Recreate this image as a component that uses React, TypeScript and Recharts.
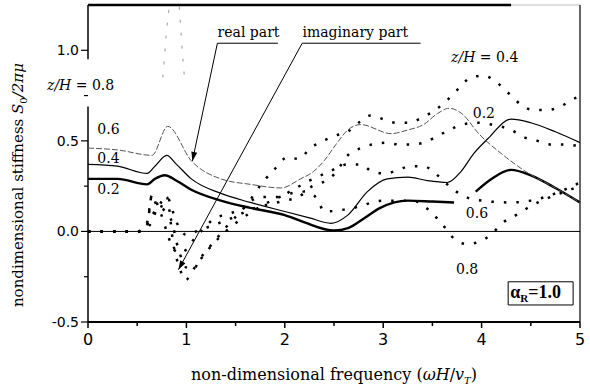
import React from 'react';
import { LineChart, Line, XAxis, YAxis, ReferenceLine, ReferenceDot, ReferenceArea } from 'recharts';

// axis ticks
const xTicks = [0, 0.5, 1, 1.5, 2, 2.5, 3, 3.5, 4, 4.5, 5];
const xTickText = ['0', '1', '2', '3', '4', '5'];
const yTicks = [-0.5, -0.25, 0, 0.25, 0.5, 0.75, 1.0];
const yMajor = [-0.5, 0, 0.5, 1.0];
const yMajorText = ['-0.5', '0.0', '0.5', '1.0'];

// real parts (z/H = 0.2, 0.4, 0.6, 0.8)
const re02X = [0, 0.3, 0.6, 0.68, 0.78, 0.9, 1.05, 1.35, 1.65, 2.0, 2.2, 2.5, 2.65, 2.8, 2.97, 3.25, 3.5, 3.72, 3.83, 3.94, 4.1, 4.3, 4.5, 4.75, 5.0];
const re02Y = [0.29, 0.29, 0.26, 0.29, 0.31, 0.28, 0.23, 0.17, 0.13, 0.09, 0.05, 0.005, 0.02, 0.07, 0.13, 0.17, 0.165, 0.16, null, 0.22, 0.29, 0.34, 0.31, 0.24, 0.16];
const re04X = [0, 0.3, 0.6, 0.68, 0.8, 0.9, 1.05, 1.35, 1.65, 2.0, 2.25, 2.47, 2.64, 2.84, 3.04, 3.25, 3.45, 3.65, 3.79, 3.92, 4.06, 4.3, 4.5, 4.75, 5.0];
const re04Y = [0.37, 0.36, 0.32, 0.36, 0.42, 0.37, 0.29, 0.21, 0.16, 0.11, 0.075, 0.045, 0.09, 0.22, 0.29, 0.3, 0.28, 0.27, 0.33, 0.43, 0.51, 0.62, 0.6, 0.55, 0.49];
const re06X = [0, 0.3, 0.65, 0.81, 1.05, 1.35, 1.65, 1.96, 2.16, 2.29, 2.4, 2.52, 2.64, 2.77, 3.08, 3.25, 3.41, 3.55, 3.67, 3.8, 3.97, 4.2, 4.45, 4.75, 5.0];
const re06Y = [0.46, 0.45, 0.42, 0.58, 0.39, 0.29, 0.26, 0.24, 0.29, 0.33, 0.39, 0.48, 0.56, 0.59, 0.54, 0.56, 0.59, 0.65, 0.68, 0.65, 0.54, 0.43, 0.33, 0.24, 0.16];
const re08X = [0.76, 0.8, 0.86, 0.92, 0.96, 0.98];
const re08Y = [0.85, 1.12, 1.4, 1.3, 0.98, 0.85];

// imaginary parts (z/H = 0.2, 0.4, 0.6, 0.8)
const im02X = [0, 0.5, 0.62, 0.7, 0.8, 0.9, 1.0, 1.1, 1.25, 1.4, 1.7, 2.0, 2.14, 2.28, 2.38, 2.51, 2.64, 2.77, 2.89, 3.03, 3.16, 3.28, 3.41, 3.53, 3.67, 3.8, 3.95, 4.1, 4.3, 4.43, 4.57, 4.7, 4.84, 5.0];
const im02Y = [0, 0, 0.03, 0.12, 0.19, 0.05, -0.02, 0.0, 0.03, 0.06, 0.13, 0.17, 0.19, 0.25, 0.27, 0.32, 0.42, 0.46, 0.48, 0.49, 0.48, 0.48, 0.49, 0.52, 0.56, 0.59, 0.6, 0.59, 0.56, 0.52, 0.5, 0.48, 0.48, 0.47];
const im04X = [0, 0.5, 0.6, 0.65, 0.72, 0.8, 0.87, 0.95, 1.05, 1.15, 1.28, 1.45, 1.62, 1.68, 1.79, 1.89, 2.03, 2.14, 2.26, 2.39, 2.52, 2.64, 2.75, 2.87, 3.0, 3.13, 3.26, 3.4, 3.53, 3.64, 3.77, 3.89, 4.02, 4.16, 4.28, 4.4, 4.53, 4.67, 4.8, 4.93, 5.0];
const im04Y = [0, 0, 0.05, 0.2, 0.13, 0.0, -0.1, -0.12, -0.06, 0.0, 0.07, 0.1, 0.15, 0.2, 0.28, 0.34, 0.41, 0.4, 0.46, 0.5, 0.53, 0.55, 0.6, 0.64, 0.62, 0.6, 0.6, 0.63, 0.67, 0.72, 0.79, 0.85, 0.86, 0.82, 0.76, 0.7, 0.67, 0.67, 0.69, 0.73, 0.75];
const im06X = [0, 0.55, 0.63, 0.72, 0.84, 0.92, 1.0, 1.07, 1.14, 1.26, 1.5, 1.75, 1.93, 2.08, 2.25, 2.45, 2.64, 2.77, 2.89, 3.03, 3.15, 3.28, 3.41, 3.53, 3.65, 3.8, 4.0, 4.3, 4.5, 4.75, 5.0];
const im06Y = [0, 0, 0.07, 0.13, 0.07, -0.1, -0.2, -0.21, -0.15, -0.07, 0.08, 0.19, 0.19, 0.23, 0.28, 0.33, 0.37, 0.37, 0.33, 0.32, 0.34, 0.36, 0.36, 0.32, 0.26, 0.2, 0.17, 0.16, 0.17, 0.21, 0.27];
const im08X = [0, 0.55, 0.6, 0.65, 0.72, 0.8, 0.87, 0.93, 0.99, 1.07, 1.15, 1.27, 1.4, 1.7, 2.0, 2.2, 2.33, 2.4, 2.7, 3.0, 3.3, 3.48, 3.6, 3.72, 3.85, 3.96, 4.09, 4.22, 4.35, 4.5, 4.7, 4.85, 5.0];
const im08Y = [0, 0, 0.03, 0.2, 0.12, 0.19, -0.08, -0.2, -0.27, -0.21, -0.15, -0.07, 0.0, 0.12, 0.2, 0.22, 0.18, 0.11, 0.13, 0.17, 0.17, 0.11, 0.04, -0.04, -0.07, -0.06, -0.02, 0.05, 0.09, 0.14, 0.19, 0.22, 0.25];

const pts = (xs: number[], ys: (number | null)[]) => xs.map((x, i) => ({ x, y: ys[i] }));

const SERIF = '"DejaVu Serif", serif';
const SANS = '"DejaVu Sans", sans-serif';

const XTick = (props: any) => {
  const { x, y, payload } = props;
  const v = payload.value;
  const major = Number.isInteger(v);
  return (
    <g>
      <line x1={x} x2={x} y1={y} y2={y + (major ? 6 : 4)} stroke="#000" strokeWidth={1.5} />
      {major && (
        <text x={x} y={y + 23} textAnchor="middle" fontFamily={SANS} fontSize={16} fill="#000">
          {xTickText[v]}
        </text>
      )}
    </g>
  );
};

const YTick = (props: any) => {
  const { x, y, payload } = props;
  const v = payload.value;
  const idx = yMajor.indexOf(v);
  const major = idx >= 0;
  return (
    <g>
      <line x1={x - (major ? 7 : 4)} x2={x} y1={y} y2={y} stroke="#000" strokeWidth={1.2} />
      {major && (
        <text x={x - 9} y={y + 5} textAnchor="end" fontFamily={SANS} fontSize={14} fill="#000">
          {yMajorText[idx]}
        </text>
      )}
    </g>
  );
};

const txt = (content: React.ReactNode, opts: any = {}) => (p: any) => (
  <text x={p.cx} y={p.cy} fontFamily={SERIF} fontSize={14} fill="#000" {...opts}>
    {content}
  </text>
);

const arrowHead = (angle: number) => (p: any) => (
  <polygon
    points="0,0 -9,-3 -9,3"
    fill="#000"
    transform={`translate(${p.cx},${p.cy}) rotate(${angle})`}
  />
);

export default function App() {
  return (
    <div style={{ position: 'absolute', left: 0, top: 0, width: 590, height: 390, background: '#fff' }}>
      <LineChart width={590} height={390} margin={{ top: 5, right: 10, bottom: 38, left: 0 }}>
        <XAxis
          type="number"
          dataKey="x"
          domain={[0, 5]}
          ticks={xTicks}
          interval={0}
          height={30}
          axisLine={{ stroke: '#000', strokeWidth: 2 }}
          tickLine={false}
          tickSize={0}
          tickMargin={0}
          tick={<XTick />}
        />
        <YAxis
          type="number"
          domain={[-0.5, 1.25]}
          ticks={yTicks}
          interval={0}
          width={88}
          allowDataOverflow
          axisLine={false}
          tickLine={false}
          tickSize={0}
          tickMargin={0}
          tick={<YTick />}
        />
        {/* frame */}
        <ReferenceLine segment={[{ x: 0, y: -0.5 }, { x: 0, y: 0.69 }]} stroke="#000" strokeWidth={1.5} ifOverflow="visible" />
        <ReferenceLine segment={[{ x: 0, y: 0.95 }, { x: 0, y: 1.25 }]} stroke="#000" strokeWidth={1.5} ifOverflow="visible" />
        <ReferenceLine segment={[{ x: 0, y: 1.25 }, { x: 4.3, y: 1.25 }]} stroke="#000" strokeWidth={2.5} ifOverflow="visible" />
        <ReferenceLine segment={[{ x: 4.3, y: 1.25 }, { x: 5, y: 1.25 }]} stroke="#bbb" strokeWidth={1} ifOverflow="visible" />
        <ReferenceLine segment={[{ x: 5, y: -0.5 }, { x: 5, y: 1.25 }]} stroke="#000" strokeWidth={1.2} ifOverflow="visible" />
        <ReferenceLine y={0} stroke="#000" strokeWidth={1} />

        {/* real parts */}
        <Line data={pts(re02X, re02Y)} dataKey="y" type="monotone" stroke="#000" strokeWidth={2.4} dot={false} isAnimationActive={false} />
        <Line data={pts(re04X, re04Y)} dataKey="y" type="monotone" stroke="#000" strokeWidth={1.2} dot={false} isAnimationActive={false} />
        <Line data={pts(re06X, re06Y)} dataKey="y" type="monotone" stroke="#555" strokeWidth={1} strokeDasharray="6 2" dot={false} isAnimationActive={false} />
        <Line data={pts(re08X, re08Y)} dataKey="y" type="linear" stroke="#999" strokeWidth={1} strokeDasharray="3 10" dot={false} isAnimationActive={false} />

        {/* imaginary parts */}
        <Line data={pts(im02X, im02Y)} dataKey="y" type="monotone" stroke="#000" strokeWidth={2.5} strokeDasharray="2.5 10" dot={false} isAnimationActive={false} />
        <Line data={pts(im04X, im04Y)} dataKey="y" type="monotone" stroke="#000" strokeWidth={2.5} strokeDasharray="2.5 10" dot={false} isAnimationActive={false} />
        <Line data={pts(im06X, im06Y)} dataKey="y" type="monotone" stroke="#000" strokeWidth={2.5} strokeDasharray="2.5 10" dot={false} isAnimationActive={false} />
        <Line data={pts(im08X, im08Y)} dataKey="y" type="monotone" stroke="#000" strokeWidth={2.5} strokeDasharray="2.5 10" dot={false} isAnimationActive={false} />

        {/* annotations */}
        <ReferenceLine segment={[{ x: 1.315, y: 1.039 }, { x: 1.93, y: 1.039 }]} stroke="#000" strokeWidth={1} ifOverflow="visible" />
        <ReferenceLine segment={[{ x: 1.315, y: 1.039 }, { x: 1.061, y: 0.389 }]} stroke="#000" strokeWidth={1} ifOverflow="visible" />
        <ReferenceLine segment={[{ x: 2.177, y: 1.039 }, { x: 3.38, y: 1.039 }]} stroke="#000" strokeWidth={1} ifOverflow="visible" />
        <ReferenceLine segment={[{ x: 2.177, y: 1.039 }, { x: 0.919, y: -0.211 }]} stroke="#000" strokeWidth={1} ifOverflow="visible" />
        <ReferenceDot x={1.061} y={0.389} r={0} ifOverflow="visible" shape={arrowHead(102)} />
        <ReferenceDot x={0.919} y={-0.211} r={0} ifOverflow="visible" shape={arrowHead(119)} />

        <ReferenceDot x={1.317} y={1.072} r={0} ifOverflow="visible" shape={txt('real part')} />
        <ReferenceDot x={2.18} y={1.072} r={0} ifOverflow="visible" shape={txt('imaginary part')} />
        <ReferenceDot x={0} y={0.778} r={0} ifOverflow="visible" shape={txt(<><tspan fontStyle="italic">z/H</tspan> = 0.8</>, { dx: -41 })} />
        <ReferenceDot x={0.095} y={0.539} r={0} ifOverflow="visible" shape={txt('0.6')} />
        <ReferenceDot x={0.095} y={0.378} r={0} ifOverflow="visible" shape={txt('0.4')} />
        <ReferenceDot x={0.095} y={0.206} r={0} ifOverflow="visible" shape={txt('0.2')} />
        <ReferenceDot x={3.69} y={0.933} r={0} ifOverflow="visible" shape={txt(<><tspan fontStyle="italic">z/H</tspan> = 0.4</>)} />
        <ReferenceDot x={3.91} y={0.628} r={0} ifOverflow="visible" shape={txt('0.2')} />
        <ReferenceDot x={3.84} y={0.072} r={0} ifOverflow="visible" shape={txt('0.6')} />
        <ReferenceDot x={3.74} y={-0.233} r={0} ifOverflow="visible" shape={txt('0.8')} />

        <ReferenceArea x1={4.27} x2={4.93} y1={-0.406} y2={-0.278} fill="#fff" fillOpacity={1} stroke="#000" strokeWidth={1} ifOverflow="visible" />
        <ReferenceDot
          x={4.29}
          y={-0.37}
          r={0}
          ifOverflow="visible"
          shape={txt(<>α<tspan fontSize={11} dy={4}>R</tspan><tspan dy={-4}>=1.0</tspan></>, { fontWeight: 'bold', fontSize: 18, fontFamily: '"Liberation Serif", serif' })}
        />

        {/* axis titles */}
        <ReferenceDot
          x={2.5}
          y={-0.822}
          r={0}
          ifOverflow="visible"
          shape={txt(<>non-dimensional frequency (<tspan fontStyle="italic">ωH</tspan>/<tspan fontStyle="italic">v</tspan><tspan fontSize={10} dy={4} fontStyle="italic">T</tspan><tspan dy={-4}>)</tspan></>, { textAnchor: 'middle', fontSize: 16 })}
        />
        <ReferenceDot
          x={-0.658}
          y={0.256}
          r={0}
          ifOverflow="visible"
          shape={(p: any) => (
            <text
              x={0}
              y={0}
              transform={`translate(${p.cx},${p.cy}) rotate(-90)`}
              textAnchor="middle"
              fontFamily={SERIF}
              fontSize={15}
              fill="#000"
            >
              nondimensional stiffness <tspan fontStyle="italic">S</tspan>
              <tspan fontSize={10} dy={4}>0</tspan>
              <tspan dy={-4} fontStyle="italic">/2πμ</tspan>
            </text>
          )}
        />
      </LineChart>
    </div>
  );
}
